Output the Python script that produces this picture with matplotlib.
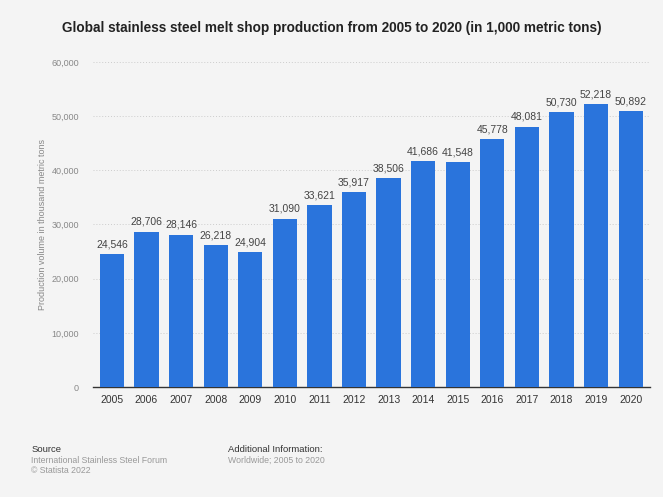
import matplotlib.pyplot as plt
from matplotlib.ticker import FuncFormatter

plt.rcParams["font.family"] = ["Liberation Sans", "DejaVu Sans"]

# data
years = ["2005", "2006", "2007", "2008", "2009", "2010", "2011", "2012",
         "2013", "2014", "2015", "2016", "2017", "2018", "2019", "2020"]
production = [24546, 28706, 28146, 26218, 24904, 31090, 33621, 35917,
              38506, 41686, 41548, 45778, 48081, 50730, 52218, 50892]

bg = "#f4f4f4"
bar_color = "#2a74dc"

fig = plt.figure(figsize=(6.63, 4.97), dpi=100, facecolor=bg)
ax = fig.add_axes([0.140, 0.2213, 0.840, 0.654])
ax.set_facecolor(bg)

x = range(len(years))
bars = ax.bar(x, production, width=0.7, color=bar_color, zorder=3)

for xi, v in zip(x, production):
    ax.text(xi, v + 900, f"{v:,}", ha="center", va="bottom",
            fontsize=7.5, color="#444444", zorder=4)

ax.set_xlim(-0.55, len(years) - 0.45)
ax.set_ylim(0, 60000)
ax.set_yticks(range(0, 60001, 10000))
ax.yaxis.set_major_formatter(FuncFormatter(lambda v, p: f"{int(v):,}"))
ax.set_xticks(list(x))
ax.set_xticklabels(years)

ax.tick_params(axis="y", length=0, labelsize=6.5, labelcolor="#888888", pad=10)
ax.tick_params(axis="x", length=0, labelsize=7.5, labelcolor="#333333", pad=6)

ax.grid(axis="y", color="#cccccc", linestyle=(0, (1, 2)), linewidth=0.7, zorder=0)
for s in ["top", "right", "left"]:
    ax.spines[s].set_visible(False)
ax.spines["bottom"].set_color("#333333")
ax.spines["bottom"].set_linewidth(1.0)

ax.set_ylabel("Production volume in thousand metric tons", fontsize=6.5,
              color="#888888", labelpad=3)

fig.text(0.5, 0.943, "Global stainless steel melt shop production from 2005 to 2020 (in 1,000 metric tons)",
         ha="center", va="center", fontsize=9.8, fontweight="bold", color="#222222")

fig.text(0.047, 0.096, "Source", fontsize=6.8, color="#333333", va="center")
fig.text(0.047, 0.073, "International Stainless Steel Forum", fontsize=6.3, color="#999999", va="center")
fig.text(0.047, 0.053, "\u00a9 Statista 2022", fontsize=6.3, color="#999999", va="center")
fig.text(0.344, 0.096, "Additional Information:", fontsize=6.8, color="#333333", va="center")
fig.text(0.344, 0.073, "Worldwide; 2005 to 2020", fontsize=6.3, color="#999999", va="center")

fig.savefig("out.png", dpi=100, facecolor=bg)
